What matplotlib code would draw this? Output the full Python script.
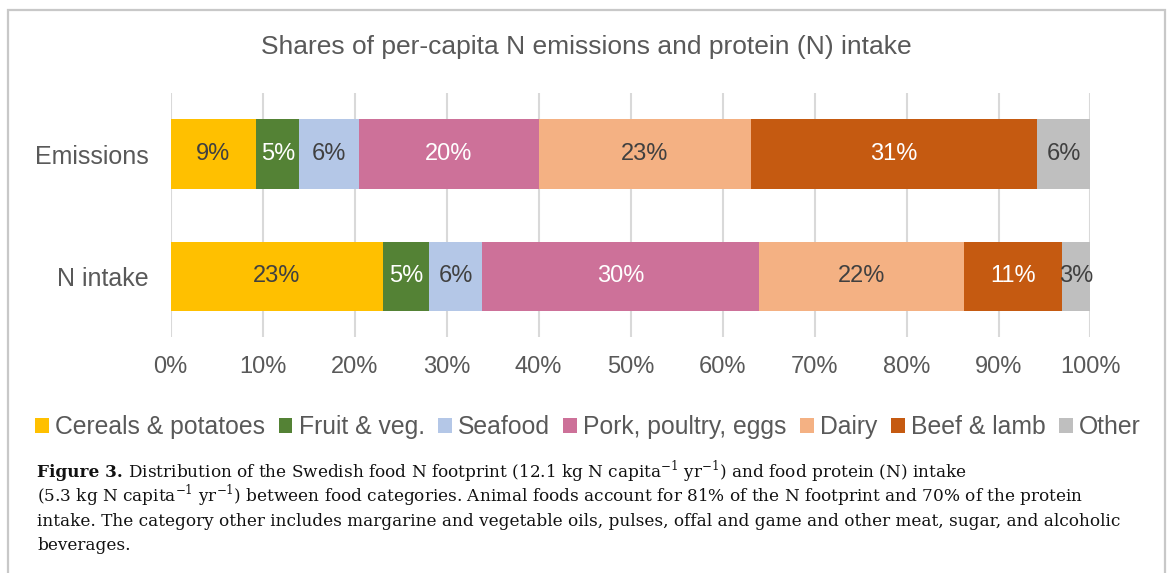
import matplotlib
matplotlib.use('Agg')
import matplotlib.pyplot as plt
from matplotlib.patches import Patch, Rectangle
import numpy as np

plt.rcParams['font.family'] = ['Liberation Sans', 'DejaVu Sans']

groups = ['Emissions', 'N intake']
categories = ['Cereals & potatoes', 'Fruit & veg.', 'Seafood', 'Pork, poultry, eggs',
              'Dairy', 'Beef & lamb', 'Other']
emissions = [9.3, 4.7, 6.45, 19.6, 23.0, 31.1, 5.9]
n_intake = [23.1, 4.96, 5.8, 30.1, 22.3, 10.6, 3.15]
colors = ['#FFC000', '#548235', '#B4C7E7', '#CD7199', '#F4B183', '#C55A11', '#BFBFBF']
label_colors = ['#404040', 'white', '#404040', 'white', '#404040', 'white', '#404040']
ticks = np.arange(0, 101, 10)

caption = [
    (r" Distribution of the Swedish food N footprint (12.1 kg N capita$^{-1}$ yr$^{-1}$) and food protein (N) intake"),
    (r"(5.3 kg N capita$^{-1}$ yr$^{-1}$) between food categories. Animal foods account for 81% of the N footprint and 70% of the protein"),
    ("intake. The category other includes margarine and vegetable oils, pulses, offal and game and other meat, sugar, and alcoholic"),
    ("beverages."),
]

W, H = 1171, 573
fig = plt.figure(figsize=(W / 100, H / 100), dpi=100)
plt.rcParams['mathtext.fontset'] = 'custom'
plt.rcParams['mathtext.rm'] = 'DejaVu Serif'

# outer box
fig.patches.append(Rectangle((8 / W, -0.1), (1165 - 8) / W, 1.1 - 10 / H,
                             transform=fig.transFigure, fill=False,
                             edgecolor='#C8C8C8', linewidth=1.6))

ax = fig.add_axes([170.7 / W, 1 - 337 / H, (1090.5 - 170.7) / W, (337 - 93) / H])
data = [emissions, n_intake]
y = np.arange(len(groups))
for g, vals in enumerate(data):
    left = 0
    for i, v in enumerate(vals):
        ax.barh(y[g], v, left=left, height=0.57, color=colors[i], linewidth=0, zorder=3)
        ax.text(left + v / 2, y[g], f"{round(v):d}%", ha='center', va='center',
                fontsize=17, color=label_colors[i], zorder=4)
        left += v

ax.set_xlim(0, 100)
ax.set_ylim(1.494, -0.498)
ax.set_xticks(ticks)
ax.set_xticklabels([f"{t}%" for t in ticks])
ax.set_yticks(y)
ax.set_yticklabels(groups)
ax.tick_params(axis='x', length=0, pad=14, labelsize=17, colors='#595959')
ax.tick_params(axis='y', length=0, pad=16, labelsize=18, colors='#595959')
ax.grid(axis='x', color='#D9D9D9', linewidth=1.5, zorder=0)
for s in ax.spines.values():
    s.set_visible(False)

fig.text(586 / W, 1 - 47 / H, 'Shares of per-capita N emissions and protein (N) intake',
         ha='center', va='center', fontsize=19, color='#595959')

handles = [Patch(facecolor=c, edgecolor='none') for c in colors]
fig.legend(handles, categories, loc='center', bbox_to_anchor=(588 / W, 1 - 427 / H),
           ncol=7, frameon=False, fontsize=17.8, handlelength=0.55, handleheight=0.55,
           handletextpad=0.25, columnspacing=0.55, labelcolor='#595959', borderpad=0)

# caption
x0 = 37 / W
base = [476.7, 501.1, 525.5, 550]
cap_font = dict(fontsize=12.2, family='DejaVu Serif', va='baseline', color='#111111')
t = fig.text(x0, 1 - base[0] / H, 'Figure 3.', weight='bold', **cap_font)
fig.canvas.draw()
bb = t.get_window_extent()
fig.text(bb.x1 / W, 1 - base[0] / H, caption[0], **cap_font)
for k in range(1, 4):
    fig.text(x0, 1 - base[k] / H, caption[k], **cap_font)

fig.savefig('out.png', dpi=100)
